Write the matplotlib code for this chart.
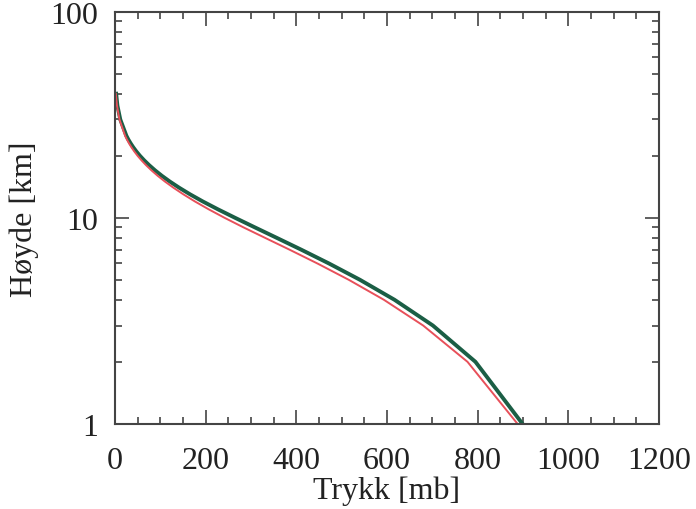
import matplotlib
matplotlib.use("Agg")
import matplotlib.pyplot as plt
from matplotlib.ticker import MultipleLocator, LogLocator, NullFormatter, FixedLocator, FixedFormatter

# Heights (km) and pressure (mb) at each height for two model atmospheres
heights = [1, 2, 3, 4, 5, 6, 7, 8, 9, 10, 11, 12, 13, 14, 15, 16, 17, 18, 19, 20,
           21, 22, 23, 24, 25, 30, 35, 40]
p_standard = [898.8, 795.0, 701.2, 616.6, 540.5, 472.2, 411.1, 356.5, 308.0, 265.0,
              227.0, 194.0, 165.8, 141.7, 121.1, 103.5, 88.5, 75.7, 64.7, 55.3,
              47.3, 40.5, 34.7, 29.7, 25.5, 12.0, 5.7, 2.9]
p_cold = [887.8, 777.5, 679.8, 593.2, 515.8, 446.7, 385.3, 330.8, 282.9, 241.8,
          206.7, 176.6, 151.0, 129.1, 110.3, 94.3, 80.6, 68.8, 58.8, 50.1,
          42.8, 36.5, 31.1, 26.5, 22.6, 10.2, 4.7, 2.2]

x_ticks = [0, 200, 400, 600, 800, 1000, 1200]
y_ticks = [1, 10, 100]
y_ticklabels = ["1", "10", "100"]

plt.rcParams["font.family"] = ["Liberation Serif", "DejaVu Serif"]

fig = plt.figure(figsize=(6.96, 5.10), dpi=100)
ax = fig.add_axes([0.165, 0.167, 0.782, 0.808])

ax.plot(p_standard, heights, color="#1b5e45", lw=2.8, solid_joinstyle="miter")
ax.plot(p_cold, heights, color="#e8505a", lw=1.4)

ax.set_yscale("log")
ax.set_xlim(0, 1200)
ax.set_ylim(1, 100)

ax.xaxis.set_major_locator(FixedLocator(x_ticks))
ax.xaxis.set_minor_locator(MultipleLocator(50))
ax.yaxis.set_major_locator(FixedLocator(y_ticks))
ax.yaxis.set_major_formatter(FixedFormatter(y_ticklabels))
ax.yaxis.set_minor_locator(LogLocator(base=10, subs=range(2, 10)))
ax.yaxis.set_minor_formatter(NullFormatter())

ax.tick_params(which="both", direction="in", top=True, right=True,
               color="#444444", labelsize=23, labelcolor="#222222")
ax.tick_params(which="major", length=10, width=1.2)
ax.tick_params(which="minor", length=5, width=1.2)
ax.tick_params(axis="x", pad=16)
ax.tick_params(axis="y", pad=12)

for s in ax.spines.values():
    s.set_color("#444444")
    s.set_linewidth(1.5)

ax.set_xlabel("Trykk [mb]", fontsize=23, color="#222222", labelpad=0)
ax.set_ylabel("Høyde [km]", fontsize=23, color="#222222", labelpad=8)

fig.savefig("out.png", dpi=100)
